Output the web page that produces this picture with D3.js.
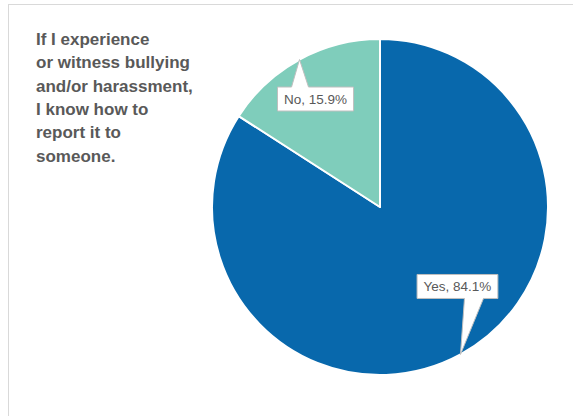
<!DOCTYPE html>
<html><head><meta charset="utf-8">
<script src="https://cdn.jsdelivr.net/npm/d3@7"></script>
<style>body{margin:0;background:#fff}svg{display:block}</style>
</head><body><svg id="c" width="573" height="416"></svg>
<script>
const categories = ["Yes", "No"];
const values = [84.1, 15.9];
const colors = ["#0868ac", "#7fcdbb"];
const titleLines = ["If I experience", "or witness bullying", "and/or harassment,", "I know how to", "report it to", "someone."];
// label box offsets (style) relative to callout tip
const labelOffsets = [[-3, -68], [16, 39.5]];

const svg = d3.select("#c");
const W = 573, H = 416;
svg.append("rect").attr("x", 8.5).attr("y", 4.5).attr("width", W).attr("height", H)
  .attr("fill", "#fff").attr("stroke", "#d9d9d9").attr("stroke-width", 1);

const title = svg.append("text").attr("x", 36).attr("y", 45)
  .attr("font-family", "Liberation Sans, Arial, sans-serif").attr("font-weight", "bold")
  .attr("font-size", 17).attr("fill", "#595959");
titleLines.forEach((t, i) => title.append("tspan").attr("x", 36).attr("y", 45 + i * 23.3).text(t));

const cx = 380, cy = 207, R = 168;
const g = svg.append("g").attr("transform", `translate(${cx},${cy})`);
const data = categories.map((c, i) => ({cat: c, value: values[i], color: colors[i]}));
const pie = d3.pie().value(d => d.value).sort(null);
const arc = d3.arc().innerRadius(0).outerRadius(R);
const arcs = pie(data);
g.selectAll("path.slice").data(arcs).join("path").attr("class", "slice")
  .attr("d", arc).attr("fill", d => d.data.color)
  .attr("stroke", "#fff").attr("stroke-width", 2).attr("stroke-linejoin", "round");

arcs.forEach((a, i) => {
  const mid = (a.startAngle + a.endAngle) / 2;
  const tx = R * Math.sin(mid), ty = -R * Math.cos(mid);
  const bcx = tx + labelOffsets[i][0], bcy = ty + labelOffsets[i][1];
  const lg = g.append("g");
  const txt = lg.append("text").attr("x", bcx).attr("y", bcy + 5)
    .attr("text-anchor", "middle").attr("font-family", "Liberation Sans, Arial, sans-serif")
    .attr("font-size", 13.5).attr("fill", "#595959")
    .text(`${a.data.cat}, ${a.data.value.toFixed(1)}%`);
  const tw = txt.node().getComputedTextLength();
  const bw = tw + 13, bh = 24;
  const x0 = bcx - bw / 2, x1 = bcx + bw / 2, y0 = bcy - bh / 2, y1 = bcy + bh / 2;
  let p;
  if (ty < y0) { // pointer from top
    const b0 = tx - 8, b1 = tx + 9;
    p = `M${x0},${y0}L${b0},${y0}L${tx},${ty}L${b1},${y0}L${x1},${y0}L${x1},${y1}L${x0},${y1}Z`;
  } else { // pointer from bottom
    const b0 = bcx + 7, b1 = bcx + 26;
    p = `M${x0},${y0}L${x1},${y0}L${x1},${y1}L${b1},${y1}L${tx},${ty}L${b0},${y1}L${x0},${y1}Z`;
  }
  lg.insert("path", "text").attr("d", p).attr("fill", "#fff")
    .attr("stroke", "#bfbfbf").attr("stroke-width", 1).attr("stroke-linejoin", "miter");
});
</script></body></html>
